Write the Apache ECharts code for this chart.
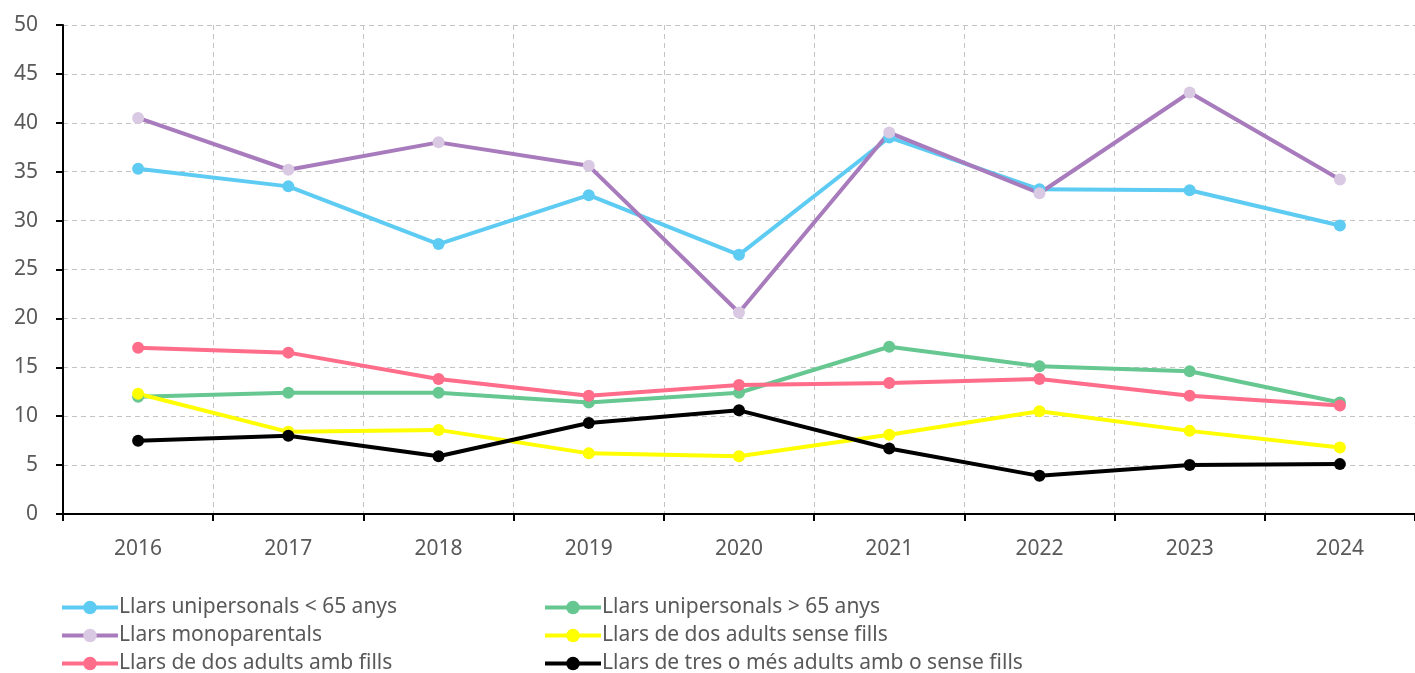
<!DOCTYPE html>
<html>
<head>
<meta charset="utf-8">
<script src="https://cdn.jsdelivr.net/npm/echarts@6/dist/echarts.min.js"></script>
<style>
  html, body { margin: 0; padding: 0; background: #fff; }
  #chart { width: 1415px; height: 673px; }
</style>
</head>
<body>
<div id="chart"></div>
<script>
// anys
const years = ['2016', '2017', '2018', '2019', '2020', '2021', '2022', '2023', '2024'];
// percentatges llegits del gràfic
const unipersonalsMenys65 = [35.3, 33.5, 27.6, 32.6, 26.5, 38.5, 33.2, 33.1, 29.5];
const unipersonalsMes65 = [12.0, 12.4, 12.4, 11.4, 12.4, 17.1, 15.1, 14.6, 11.4];
const monoparentals = [40.5, 35.2, 38.0, 35.6, 20.6, 39.0, 32.8, 43.1, 34.2];
const dosAdultsSenseFills = [12.3, 8.4, 8.6, 6.2, 5.9, 8.1, 10.5, 8.5, 6.8];
const dosAdultsAmbFills = [17.0, 16.5, 13.8, 12.1, 13.2, 13.4, 13.8, 12.1, 11.1];
const tresOMesAdults = [7.5, 8.0, 5.9, 9.3, 10.6, 6.7, 3.9, 5.0, 5.1];

const fontFamily = '"Noto Sans", "Open Sans", sans-serif';
const textColor = '#595959';

const echart = echarts.init(document.getElementById('chart'));

function serie(name, data, lineColor, markerColor) {
    return {
        name: name,
        type: 'line',
        data: data,
        symbol: 'circle',
        symbolSize: 12,
        lineStyle: { width: 4, color: lineColor },
        itemStyle: { color: markerColor || lineColor },
        emphasis: { disabled: true }
    };
}

const legendCommon = {
    orient: 'vertical',
    top: 592,
    height: 120,
    itemGap: 7,
    itemWidth: 56,
    itemHeight: 17,
    lineStyle: { width: 4 },
    textStyle: { fontSize: 21, color: textColor, fontFamily: fontFamily, padding: [0, 0, 0, -4] }
};

const option = {
    animation: false,
    grid: {
        left: 63,
        top: 25,
        bottom: 159,
        width: 1358,
        containLabel: false
    },
    legend: [
        Object.assign({}, legendCommon, {
            left: 55,
            data: ['Llars unipersonals < 65 anys', 'Llars monoparentals', 'Llars de dos adults amb fills']
        }),
        Object.assign({}, legendCommon, {
            left: 538,
            data: ['Llars unipersonals > 65 anys', 'Llars de dos adults sense fills', 'Llars de tres o més adults amb o sense fills']
        })
    ],
    xAxis: {
        type: 'category',
        data: years,
        boundaryGap: true,
        axisLine: { lineStyle: { color: '#000', width: 2 } },
        axisTick: { show: true, length: 7, lineStyle: { color: '#000', width: 2 } },
        axisLabel: { fontSize: 21, color: textColor, fontFamily: fontFamily, margin: 25 },
        splitLine: { show: true, lineStyle: { color: '#c4c4c4', type: [5, 4], width: 1 } }
    },
    yAxis: {
        type: 'value',
        min: 0,
        max: 50,
        interval: 5,
        axisLine: { show: true, lineStyle: { color: '#000', width: 2 } },
        axisTick: { show: true, length: 7, lineStyle: { color: '#000', width: 2 } },
        axisLabel: { fontSize: 21, color: textColor, fontFamily: fontFamily, margin: 25 },
        splitLine: { show: true, lineStyle: { color: '#c4c4c4', type: [5, 4], width: 1 } }
    },
    series: [
        serie('Llars unipersonals < 65 anys', unipersonalsMenys65, '#5ecbf3'),
        serie('Llars unipersonals > 65 anys', unipersonalsMes65, '#66c791'),
        serie('Llars monoparentals', monoparentals, '#a87bbd', '#dac9e3'),
        serie('Llars de dos adults sense fills', dosAdultsSenseFills, '#ffff00'),
        serie('Llars de dos adults amb fills', dosAdultsAmbFills, '#ff6d8a'),
        serie('Llars de tres o més adults amb o sense fills', tresOMesAdults, '#000000')
    ]
};

echart.setOption(option);
</script>
</body>
</html>
